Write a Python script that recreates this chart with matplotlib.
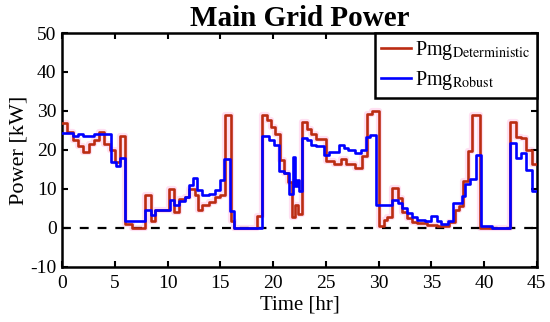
import numpy as np
import matplotlib.pyplot as plt

plt.rcParams['font.family'] = ['Liberation Serif', 'DejaVu Serif']
plt.rcParams['mathtext.fontset'] = 'stix'
plt.rcParams['axes.unicode_minus'] = False

# step start times [hr] and values [kW]
t_det = [0, 0.5, 1.0, 1.5, 2.0, 2.5, 3.0, 3.5, 4.0, 4.5, 5.0, 5.5, 6.0, 6.6,
         7.9, 8.4, 8.8, 10.1, 10.6, 11.1, 11.6, 12.0, 12.6, 12.9, 13.3, 13.9,
         14.5, 15.0, 15.4, 16.0, 16.3, 18.5, 18.9, 19.4, 19.8, 20.2, 20.7,
         21.0, 21.4, 21.8, 22.1, 22.4, 22.75, 23.2, 23.6, 24.1, 25.0, 25.8,
         26.4, 26.9, 27.8, 28.4, 28.9, 29.4, 30.0, 30.5, 30.8, 31.3, 31.8,
         32.2, 32.7, 33.2, 33.6, 34.6, 35.5, 36.7, 37.2, 37.6, 38.0, 38.5,
         38.9, 39.6, 42.5, 43.0, 43.5, 44.0, 44.5, 45]
p_det = [27, 24.5, 22.5, 21, 19.5, 21.5, 22.5, 24.5, 21.5, 20, 17, 23.5, 1, 0,
         8.5, 1.7, 4.5, 10, 4, 7.5, 8, 10, 8.5, 4.5, 5.8, 6.7,
         8, 8.5, 29, 1.8, 0, 3, 29, 27.8, 26, 24, 17.5,
         14.2, 11.7, 2.7, 6, 3.5, 27.3, 25.5, 24, 22.7, 17.2, 16.3,
         17.6, 16.3, 15.5, 18.5, 29.3, 30, 0.6, 2, 2.9, 10.2, 7.6,
         4, 2.5, 1.5, 1.2, 0.8, 0.6, 1.5, 4.7, 5.6, 12, 19.8,
         29, 0, 27.3, 23.4, 23, 20, 16.3, 16.3]

t_rob = [0, 1.0, 1.5, 2.0, 3.0, 4.6, 5.1, 5.5, 6.0, 7.9, 8.4, 8.8, 10.2, 10.6,
         11.1, 11.6, 12.0, 12.4, 12.8, 13.3, 13.9, 14.5, 15.0, 15.35, 15.9,
         16.3, 18.9, 19.6, 20.1, 20.6, 21.0, 21.5, 21.9, 22.05, 22.25, 22.45,
         22.75, 23.2, 23.6, 24.1, 24.8, 25.3, 26.2, 26.7, 27.1, 27.8, 28.3,
         28.8, 29.2, 29.8, 31.3, 31.8, 32.2, 32.7, 33.2, 33.6, 34.4, 35.0,
         35.5, 35.9, 36.6, 37.1, 37.9, 38.2, 38.7, 39.2, 39.7, 40.8, 42.5,
         43.0, 43.5, 44.0, 44.5, 45]
p_rob = [24.3, 23.6, 24, 23.7, 24.2, 17, 16, 18, 1.8, 4.6, 3.4, 4.7, 7.2, 6,
         6.8, 7.9, 11, 12.7, 9.8, 8.4, 8.8, 9.8, 12.2, 17.6, 4.4,
         0, 23.5, 22.6, 21.4, 14.6, 14.2, 8.6, 18.3, 10.8, 12.3, 9.5,
         23.1, 22.6, 21.4, 21, 18.7, 19.6, 21.3, 20.4, 20, 19.2, 20,
         23.4, 23.9, 5.9, 7.2, 6.3, 5, 3.8, 2.9, 2, 1.7, 3,
         1.7, 1.1, 1.7, 6.4, 8.1, 11.2, 12.5, 18.7, 0.5, 0, 21.7,
         17.9, 19.2, 14.9, 9.5, 9.5]

fig, ax = plt.subplots(figsize=(5.5, 3.22), dpi=100)
fig.subplots_adjust(left=0.113, right=0.976, bottom=0.171, top=0.8975)

# faint halo like the original rendering
ax.step(t_det, p_det, where='post', color='#ffe0f2', lw=4.5, zorder=1)
ax.step(t_det, p_det, where='post', color='#bb2c12', lw=1.9, zorder=3,
        label='Pmg$_{\\mathrm{Deterministic}}$')
ax.step(t_rob, p_rob, where='post', color='#0000ff', lw=1.9, zorder=4,
        label='Pmg$_{\\mathrm{Robust}}$')
ax.axhline(0, color='black', lw=1.6, ls=(0, (4, 4)), zorder=2)

ax.set_xlim(0, 45)
ax.set_ylim(-10, 50)
ax.set_xticks(np.arange(0, 46, 5))
ax.set_yticks(np.arange(-10, 51, 10))
ax.tick_params(direction='in', length=4, width=1.5, labelsize=14,
               top=True, right=True)
ax.tick_params(axis='x', pad=6)
ax.tick_params(axis='y', pad=4)
for s in ax.spines.values():
    s.set_linewidth(1.8)

ax.set_xlabel('Time [hr]', fontsize=15, labelpad=2)
ax.set_ylabel('Power [kW]', fontsize=16, labelpad=1)
ax.set_title('Main Grid Power', fontsize=21, fontweight='bold', pad=5)

leg = ax.legend(loc='upper right', borderaxespad=0, fancybox=False,
                fontsize=14.5, handlelength=1.5, handletextpad=0.2,
                labelspacing=0.35, borderpad=0.3, framealpha=1)
leg.get_frame().set_edgecolor('black')
leg.get_frame().set_linewidth(1.8)

plt.savefig('out.png')
